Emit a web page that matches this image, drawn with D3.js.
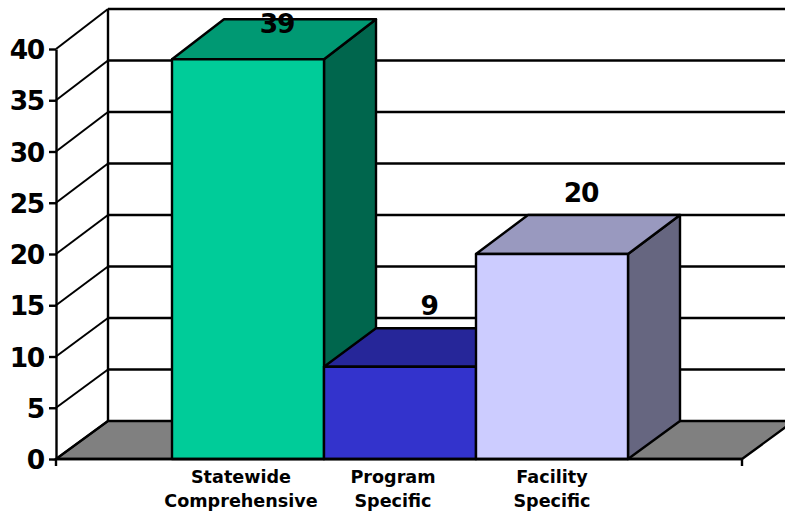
<!DOCTYPE html>
<html>
<head>
<meta charset="utf-8">
<script src="https://cdn.jsdelivr.net/npm/d3@7"></script>
<style>
  html, body { margin: 0; padding: 0; background: #fff; }
  svg { display: block; }
  text { font-family: "DejaVu Sans", sans-serif; font-weight: bold; fill: #000; }
</style>
</head>
<body>
<svg id="chart" width="785" height="511"></svg>
<script>
// Values and labels
const categories = [["Statewide", "Comprehensive"], ["Program", "Specific"], ["Facility", "Specific"]];
const values = [39, 9, 20];
const frontColors = ["#00CC99", "#3333CC", "#CCCCFF"];
const topColors = ["#009973", "#262699", "#9999BF"];
const sideColors = ["#00664D", "#1A1A66", "#666680"];
const yTicks = [0, 5, 10, 15, 20, 25, 30, 35, 40];

// Oblique projection: a front plane and a back plane offset up and to the right
const width = 785, height = 511;
const depthX = 52;
const frontLeft = 56, frontRight = 742;
const yFront = d3.scaleLinear().domain([0, 40]).range([459, 49]);
const yBack = d3.scaleLinear().domain([0, 40]).range([421, 9]);
const x = d3.scaleBand().domain(d3.range(categories.length))
  .range([frontLeft + 2, frontRight]).paddingInner(0).paddingOuter(0.75);

const svg = d3.select("#chart");
const line = "#000";
const strokeMain = 2.4;
const poly = pts => pts.map(p => p.join(",")).join(" ");

// Numerals are set large with tight spacing
const numeralSize = 26.5, numeralTracking = "-1.3px";

// Floor
svg.append("polygon")
  .attr("points", poly([[frontLeft, yFront(0)], [frontLeft + depthX, yBack(0)],
                        [frontRight + depthX, yBack(0)], [frontRight, yFront(0)]]))
  .attr("fill", "#808080").attr("stroke", line).attr("stroke-width", strokeMain);

// Gridlines on the back wall and their continuation along the side wall
const grid = svg.append("g").attr("stroke", line).attr("fill", "none");
yTicks.forEach(t => {
  if (t > 0) {
    grid.append("line").attr("x1", frontLeft + depthX).attr("x2", width + 5)
      .attr("y1", yBack(t)).attr("y2", yBack(t)).attr("stroke-width", strokeMain);
  }
  grid.append("line").attr("x1", frontLeft).attr("y1", yFront(t))
    .attr("x2", frontLeft + depthX).attr("y2", yBack(t)).attr("stroke-width", 2);
});
grid.append("line").attr("x1", frontLeft + depthX).attr("x2", frontLeft + depthX)
  .attr("y1", yBack(40)).attr("y2", yBack(0)).attr("stroke-width", strokeMain);

// Value axis, on the front-left edge
const yAxis = d3.axisLeft(yFront).tickValues(yTicks).tickSize(7).tickPadding(5).tickSizeOuter(0);
const axisG = svg.append("g").attr("transform", `translate(${frontLeft},0)`).call(yAxis);
axisG.selectAll("line").attr("stroke", line).attr("stroke-width", strokeMain);
axisG.select(".domain").attr("stroke", line).attr("stroke-width", strokeMain);
axisG.selectAll("text").attr("font-size", numeralSize).attr("dy", "0.36em")
  .style("font-family", '"DejaVu Sans", sans-serif').style("font-weight", "bold")
  .style("letter-spacing", numeralTracking);

// Bars, drawn left to right so each one covers the hidden part of its neighbour
const bars = svg.append("g").attr("stroke", line).attr("stroke-width", strokeMain).attr("stroke-linejoin", "round");
values.forEach((v, i) => {
  const l = x(i), r = l + x.bandwidth();
  const yf = yFront(v), yb = yBack(v);
  const y0f = yFront(0), y0b = yBack(0);
  bars.append("polygon").attr("fill", sideColors[i])
    .attr("points", poly([[r, yf], [r + depthX, yb], [r + depthX, y0b], [r, y0f]]));
  bars.append("polygon").attr("fill", topColors[i])
    .attr("points", poly([[l, yf], [l + depthX, yb], [r + depthX, yb], [r, yf]]));
  bars.append("rect").attr("fill", frontColors[i])
    .attr("x", l).attr("y", yf).attr("width", r - l).attr("height", y0f - yf);
});

// Front edge of the floor with its end ticks
const base = svg.append("g").attr("stroke", line).attr("stroke-width", strokeMain);
base.append("line").attr("x1", frontLeft).attr("x2", frontRight).attr("y1", yFront(0)).attr("y2", yFront(0));
[frontLeft, frontRight].forEach(px => {
  base.append("line").attr("x1", px).attr("x2", px).attr("y1", yFront(0)).attr("y2", yFront(0) + 7);
});

// Value labels sit above the back edge of each bar top, kept inside the plot at the top
const valueLabelShift = 29;
svg.append("g").selectAll("text").data(values).join("text")
  .attr("x", (d, i) => x(i) + x.bandwidth() / 2 + valueLabelShift)
  .attr("y", d => Math.max(yBack(d) - 13.5, 33))
  .attr("text-anchor", "middle").attr("font-size", numeralSize)
  .style("letter-spacing", numeralTracking)
  .text(d => d);

// Two-line category labels
const categoryNudge = [-7, -7, 0];
const catG = svg.append("g");
categories.forEach((lines, i) => {
  lines.forEach((s, j) => {
    catG.append("text")
      .attr("x", x(i) + x.bandwidth() / 2 + categoryNudge[i])
      .attr("y", 483 + j * 24)
      .attr("text-anchor", "middle").attr("font-size", 17.6)
      .text(s);
  });
});
</script>
</body>
</html>
